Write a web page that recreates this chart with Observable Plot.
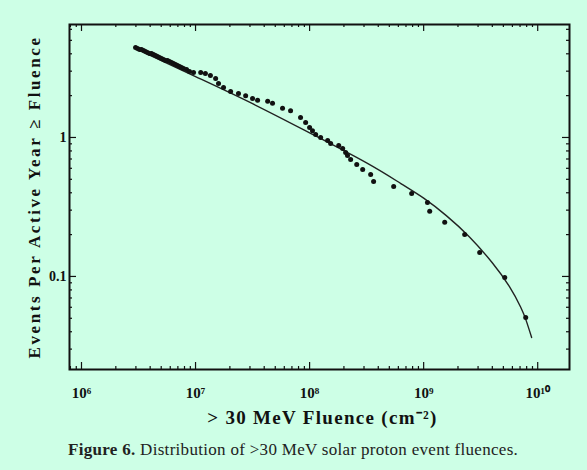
<!DOCTYPE html>
<html><head><meta charset="utf-8">
<script src="https://cdn.jsdelivr.net/npm/d3@7"></script>
<script src="https://cdn.jsdelivr.net/npm/@observablehq/plot@0.6"></script>
<style>
html,body{margin:0;padding:0;background:#cdffe6;}
#chart{width:587px;height:470px;position:relative;font-family:"Liberation Serif",serif;}
#caption{position:absolute;left:68px;top:441px;font-size:17px;line-height:18px;letter-spacing:0.3px;color:#222;white-space:nowrap;}
</style></head><body><div id="chart"></div>
<script>
// Observed events: >30 MeV fluence (cm^-2) and events per active year >= fluence
const fluence = [2.98e6,3.10e6,3.23e6,3.36e6,3.50e6,3.64e6,3.79e6,3.95e6,4.11e6,4.28e6,4.46e6,4.64e6,4.83e6,5.03e6,5.24e6,5.46e6,5.68e6,5.91e6,6.16e6,6.41e6,6.68e6,6.95e6,7.24e6,7.54e6,7.85e6,8.34e6,8.85e6,9.60e6,
  1.11e7,1.22e7,1.35e7,1.50e7,1.59e7,1.76e7,2.03e7,2.38e7,2.75e7,3.16e7,3.50e7,4.29e7,4.73e7,5.79e7,6.81e7,8.33e7,9.23e7,
  1.00e8,1.06e8,1.13e8,1.25e8,1.44e8,1.53e8,1.80e8,1.95e8,2.07e8,2.15e8,2.29e8,2.59e8,2.92e8,3.43e8,3.64e8,5.46e8,7.85e8,
  1.08e9,1.13e9,1.53e9,2.29e9,3.10e9,5.14e9,7.85e9];
const events = [4.44,4.37,4.30,4.30,4.23,4.16,4.09,4.02,4.02,3.96,3.89,3.83,3.76,3.70,3.64,3.58,3.58,3.52,3.46,3.41,3.35,3.30,3.24,3.19,3.14,3.08,2.98,2.94,
  2.94,2.89,2.79,2.66,2.45,2.29,2.14,2.07,2.00,1.91,1.85,1.82,1.76,1.62,1.56,1.39,1.28,
  1.18,1.12,1.05,1.00,0.952,0.905,0.876,0.834,0.780,0.742,0.695,0.639,0.589,0.542,0.482,0.444,0.395,
  0.341,0.294,0.245,0.200,0.149,0.0984,0.0507];
// Fitted curve
const fitFluence = [2.98e6,1.0e7,3.16e7,1.0e8,3.16e8,6.31e8,1.0e9,1.58e9,2.51e9,3.98e9,5.62e9,7.08e9,7.94e9,8.85e9];
const fitEvents  = [4.37,2.74,1.75,1.08,0.656,0.466,0.366,0.274,0.193,0.126,0.0851,0.0603,0.0479,0.0364];
// Axis ticks
const xMajor = [1e6,1e7,1e8,1e9,1e10];
const xLabels = ["10\u2076","10\u2077","10\u2078","10\u2079","10\u00B9\u2070"];
const xMinor = [8e5,9e5,2e6,3e6,4e6,5e6,6e6,7e6,8e6,9e6,2e7,3e7,4e7,5e7,6e7,7e7,8e7,9e7,2e8,3e8,4e8,5e8,6e8,7e8,8e8,9e8,2e9,3e9,4e9,5e9,6e9,7e9,8e9,9e9];
const yMajor = [0.1,1];
const yLabels = ["0.1","1"];
const yMinor = [0.03,0.04,0.05,0.06,0.07,0.08,0.09,0.2,0.3,0.4,0.5,0.6,0.7,0.8,0.9,2,3,4,5,6];
const xTitle = "> 30 MeV Fluence (cm\u207B\u00B2)";
const yTitle = "Events Per Active Year \u2265 Fluence";

const pts = fluence.map((f,i)=>({f, e: events[i]}));
const fit = fitFluence.map((f,i)=>({f, e: fitEvents[i]}));

const W = 587, H = 432, mT = 24, mB = 63, mL = 69, mR = 18;
const iH = H - mT - mB, iW = W - mL - mR;
const tk = (len) => [
  Plot.tickX(len > 4 ? xMajor : xMinor, {x: d=>d, insetTop: iH - len, stroke:"#111", strokeWidth:1.2}),
  Plot.tickX(len > 4 ? xMajor : xMinor, {x: d=>d, insetBottom: iH - len, stroke:"#111", strokeWidth:1.2}),
  Plot.tickY(len > 4 ? yMajor : yMinor, {y: d=>d, insetRight: iW - len, stroke:"#111", strokeWidth:1.2}),
  Plot.tickY(len > 4 ? yMajor : yMinor, {y: d=>d, insetLeft: iW - len, stroke:"#111", strokeWidth:1.2})
];

const chart = Plot.plot({
  width: W, height: H,
  marginTop: mT, marginBottom: mB, marginLeft: mL, marginRight: mR,
  style: {background: "transparent", fontFamily: "'Liberation Serif', serif", color: "#111"},
  x: {type: "log", domain: [7.85e5, 1.9e10], axis: null},
  y: {type: "log", domain: [0.0214, 6.5], axis: null},
  marks: [
    ...tk(7), ...tk(3),
    Plot.frame({stroke: "#111", strokeWidth: 2}),
    Plot.line(fit, {x: "f", y: "e", curve: "natural", stroke: "#222", strokeWidth: 1.4}),
    Plot.dot(pts, {x: "f", y: "e", r: 2.5, fill: "#111", stroke: null}),
    Plot.text(xMajor, {x: d=>d, text: (d,i)=>xLabels[i], frameAnchor: "bottom", lineAnchor: "middle", dy: 24, fontSize: 15, fontWeight: "bold"}),
    Plot.text(yMajor, {y: d=>d, text: (d,i)=>yLabels[i], frameAnchor: "left", textAnchor: "end", dx: -3, fontSize: 14, fontWeight: "bold"}),
    Plot.text([xTitle], {text: d=>d, frameAnchor: "bottom", textAnchor: "middle", lineAnchor: "middle", dy: 48, dx: 3, fontSize: 19, fontWeight: "bold"}),
    Plot.text([yTitle], {text: d=>d, frameAnchor: "left", textAnchor: "middle", lineAnchor: "middle", dx: -35, rotate: -90, fontSize: 17, fontWeight: "bold"})
  ]
});
d3.select(chart).selectAll("text").each(function() {
  const t = this.textContent;
  if (t === xTitle) this.setAttribute("letter-spacing", "1.3");
  if (t === yTitle) this.setAttribute("letter-spacing", "2.6");
});
document.getElementById("chart").appendChild(chart);
const cap = document.createElement("div");
cap.id = "caption";
cap.innerHTML = "<b>Figure 6.</b> Distribution of &gt;30 MeV solar proton event fluences.";
document.getElementById("chart").appendChild(cap);
</script></body></html>
